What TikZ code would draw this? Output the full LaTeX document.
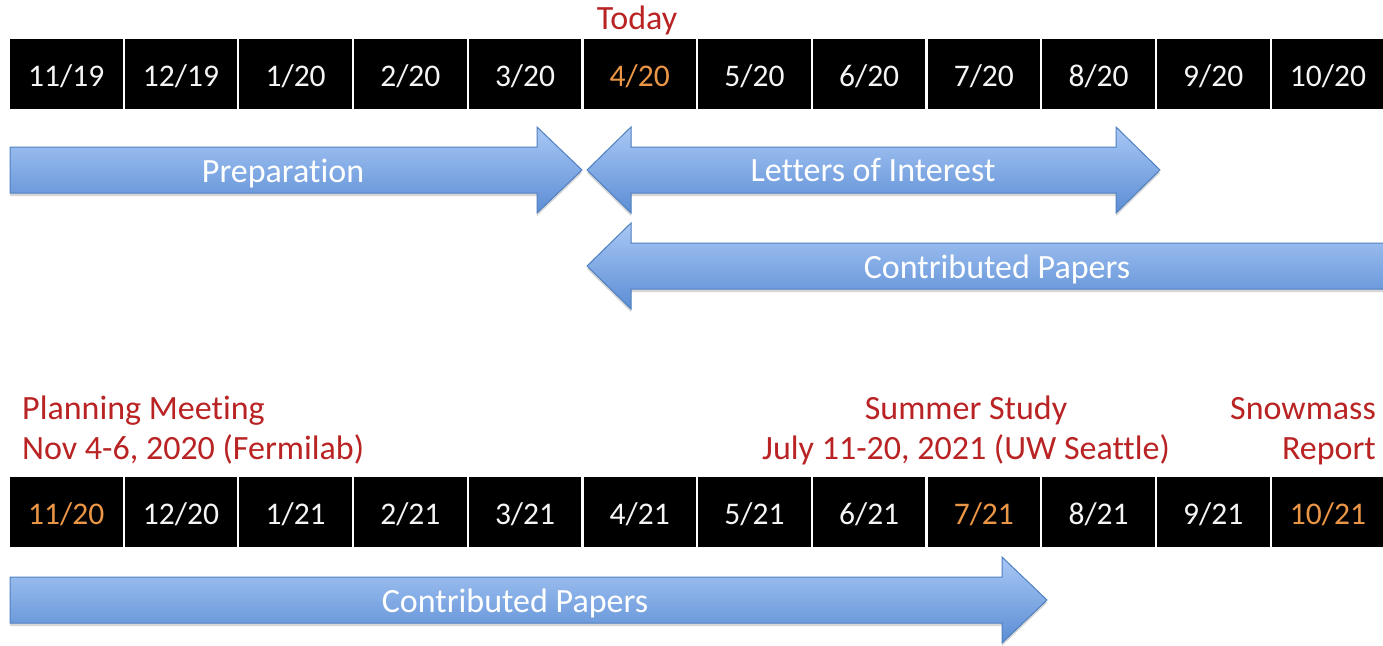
\documentclass[tikz,border=0pt]{standalone}
\usepackage{fontspec}
\setmainfont{Carlito}[Ligatures={NoCommon}]

\definecolor{datetext}{RGB}{245,245,245}
\definecolor{dateorange}{RGB}{235,150,70}
\definecolor{notered}{RGB}{185,35,35}
\definecolor{barlight}{RGB}{168,200,245}
\definecolor{bardark}{RGB}{92,141,212}
\definecolor{baredge}{RGB}{80,128,192}

\tikzset{
  datebox/.style={fill=black, minimum width=112.5pt, minimum height=70pt,
    inner sep=0pt, text height=28pt, text depth=4pt,
    font=\fontsize{31.5}{37}\selectfont},
  bar/.style={top color=barlight, bottom color=bardark, draw=baredge,
    line width=1pt, line join=miter,
    preaction={fill=black, opacity=0.16, transform canvas={yshift=-3pt}}},
  barlabel/.style={text=white, font=\fontsize{34}{40}\selectfont,
    anchor=base, inner sep=0pt},
  note/.style={text=notered, font=\fontsize{34}{40}\selectfont,
    anchor=base, inner sep=0pt},
}

\begin{document}
\begin{tikzpicture}[x=1pt,y=-1pt]
\useasboundingbox (0,0) rectangle (1383,645);
\fill[white] (0,0) rectangle (1383,645);

% month strip, 2019-2020
\foreach \m/\yr/\col [count=\i from 0] in
  {11/19/datetext,12/19/datetext,1/20/datetext,2/20/datetext,3/20/datetext,
   4/20/dateorange,5/20/datetext,6/20/datetext,7/20/datetext,8/20/datetext,
   9/20/datetext,10/20/datetext}
  \node[datebox, text=\col] (top\i) at (66.25+\i*114.7,74) {\m/\yr};

% month strip, 2020-2021
\foreach \m/\yr/\col [count=\i from 0] in
  {11/20/dateorange,12/20/datetext,1/21/datetext,2/21/datetext,3/21/datetext,
   4/21/datetext,5/21/datetext,6/21/datetext,7/21/dateorange,8/21/datetext,
   9/21/datetext,10/21/dateorange}
  \node[datebox, text=\col] (bot\i) at (66.25+\i*114.7,512) {\m/\yr};

% phase bars
\path[bar] (10,147) -- (537,147) -- (537,127) -- (582,170) -- (537,213)
  -- (537,193) -- (10,193) -- cycle;
\path[bar] (587,170) -- (631,127) -- (631,147) -- (1116,147) -- (1116,127)
  -- (1160,170) -- (1116,213) -- (1116,193) -- (631,193) -- (631,213) -- cycle;
\path[bar] (587,266) -- (631,223) -- (631,243) -- (1400,243) -- (1400,289)
  -- (631,289) -- (631,309) -- cycle;
\path[bar] (10,577) -- (1002,577) -- (1002,557) -- (1047,600) -- (1002,643)
  -- (1002,623) -- (10,623) -- cycle;

\node[barlabel] (prep) at (283,182) {Preparation};
\node[barlabel] (loi) at (873,181) {Letters of Interest};
\node[barlabel] (cpa) at (997,278) {Contributed Papers};
\node[barlabel] (cpb) at (515,612) {Contributed Papers};

% milestones
\node[note] (today) at (637,29) {Today};
\node[note, anchor=base west] (pm1) at (22,419) {Planning Meeting};
\node[note, anchor=base west] (pm2) at (22,459) {Nov 4-6, 2020 (Fermilab)};
\node[note] (ss1) at (966,419) {Summer Study};
\node[note] (ss2) at (966,459) {July 11-20, 2021 (UW Seattle)};
\node[note, anchor=base east] (sr1) at (1376,419) {Snowmass};
\node[note, anchor=base east] (sr2) at (1376,459) {Report};
\end{tikzpicture}
\end{document}
